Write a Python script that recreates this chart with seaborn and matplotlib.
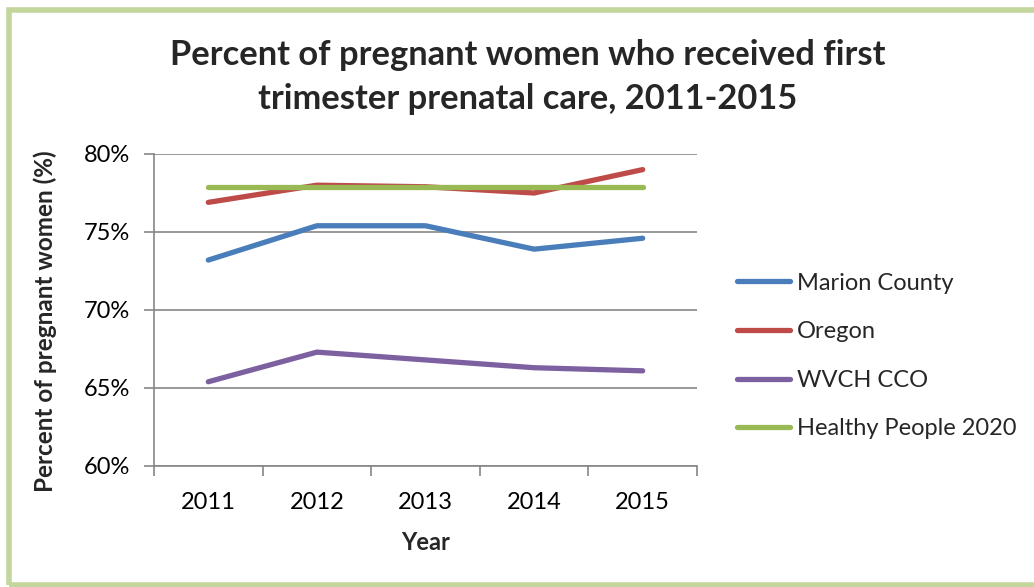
import matplotlib
matplotlib.use("Agg")
import matplotlib.pyplot as plt
from matplotlib.patches import Rectangle
from matplotlib.ticker import FixedLocator, FuncFormatter
import seaborn as sns
import pandas as pd

# Chart data
years = ["2011", "2012", "2013", "2014", "2015"]
marion_county = [73.2, 75.4, 75.4, 73.9, 74.6]
oregon = [76.9, 78.0, 77.9, 77.5, 79.0]
wvch_cco = [65.4, 67.3, 66.8, 66.3, 66.1]
healthy_people_2020 = [77.9, 77.9, 77.9, 77.9, 77.9]

series_names = ["Marion County", "Oregon", "WVCH CCO", "Healthy People 2020"]
series_values = [marion_county, oregon, wvch_cco, healthy_people_2020]
series_colors = ["#4A7EBB", "#BE4B48", "#7D60A0", "#98B954"]

rows = []
for name, vals in zip(series_names, series_values):
    for i, (yr, v) in enumerate(zip(years, vals)):
        rows.append({"pos": i, "Year": yr, "Series": name, "Value": v})
df = pd.DataFrame(rows)

sns.set_theme(style="white")
plt.rcParams["font.family"] = ["Lato", "DejaVu Sans"]

FS = 17
LW = 3.8

fig = plt.figure(figsize=(10.34, 5.87), dpi=100)
ax = fig.add_axes([154 / 1034, 1 - 466 / 587, (697 - 154) / 1034, (466 - 154) / 587])

sns.lineplot(
    data=df, x="pos", y="Value", hue="Series", hue_order=series_names,
    palette=series_colors, linewidth=LW, ax=ax, legend=False,
    solid_capstyle="round", sort=False,
)

ax.set_xlim(-0.5, len(years) - 0.5)
ax.set_ylim(60, 80)
ax.yaxis.set_major_locator(FixedLocator([60, 65, 70, 75, 80]))
ax.yaxis.set_major_formatter(FuncFormatter(lambda v, _: f"{v:.0f}%"))
ax.grid(axis="y", color="#868686", linewidth=1.2)
ax.set_axisbelow(True)

# category labels centered, tick marks on category boundaries
ax.set_xticks(range(len(years)))
ax.set_xticklabels(years)
ax.set_xticks([i - 0.5 for i in range(len(years) + 1)], minor=True)
ax.tick_params(axis="x", which="major", length=0, pad=19, labelsize=FS, colors="black")
ax.tick_params(axis="x", which="minor", length=7, width=1.2, color="#868686", direction="out", bottom=True)
ax.tick_params(axis="y", which="major", length=7, width=1.2, color="#868686", direction="out",
               left=True, pad=10, labelsize=FS, colors="black")

for side in ["top", "right"]:
    ax.spines[side].set_visible(False)
for side in ["left", "bottom"]:
    ax.spines[side].set_color("#868686")
    ax.spines[side].set_linewidth(1.2)

ax.set_xlabel("Year", fontsize=FS, fontweight="bold", labelpad=13)
ax.set_ylabel("Percent of pregnant women (%)", fontsize=17.5, fontweight="bold",
              ha="center", va="center")
ax.yaxis.set_label_coords((45 - 154) / 543, 1 - (321 - 154) / 312)

fig.text(528 / 1034, 1 - 77 / 587,
         "Percent of pregnant women who received first\ntrimester prenatal care, 2011-2015",
         ha="center", va="center", fontsize=24.8, fontweight="bold", linespacing=1.45)

# legend on the right
handles = [plt.Line2D([0], [0], color=c, linewidth=LW, solid_capstyle="round") for c in series_colors]
fig.legend(handles, series_names, loc="center left", bbox_to_anchor=(727.5 / 1034, 1 - 356 / 587),
           frameon=False, fontsize=FS, handlelength=2.25, handletextpad=0.3,
           labelspacing=1.17, borderaxespad=0)

# chart area border
fig.patches.append(Rectangle((9 / 1034, 1 - 585 / 587), 1.2, (585 - 10) / 587,
                             transform=fig.transFigure, fill=False,
                             edgecolor="#C3D69B", linewidth=4, clip_on=False))

fig.savefig("out.png", dpi=100)
